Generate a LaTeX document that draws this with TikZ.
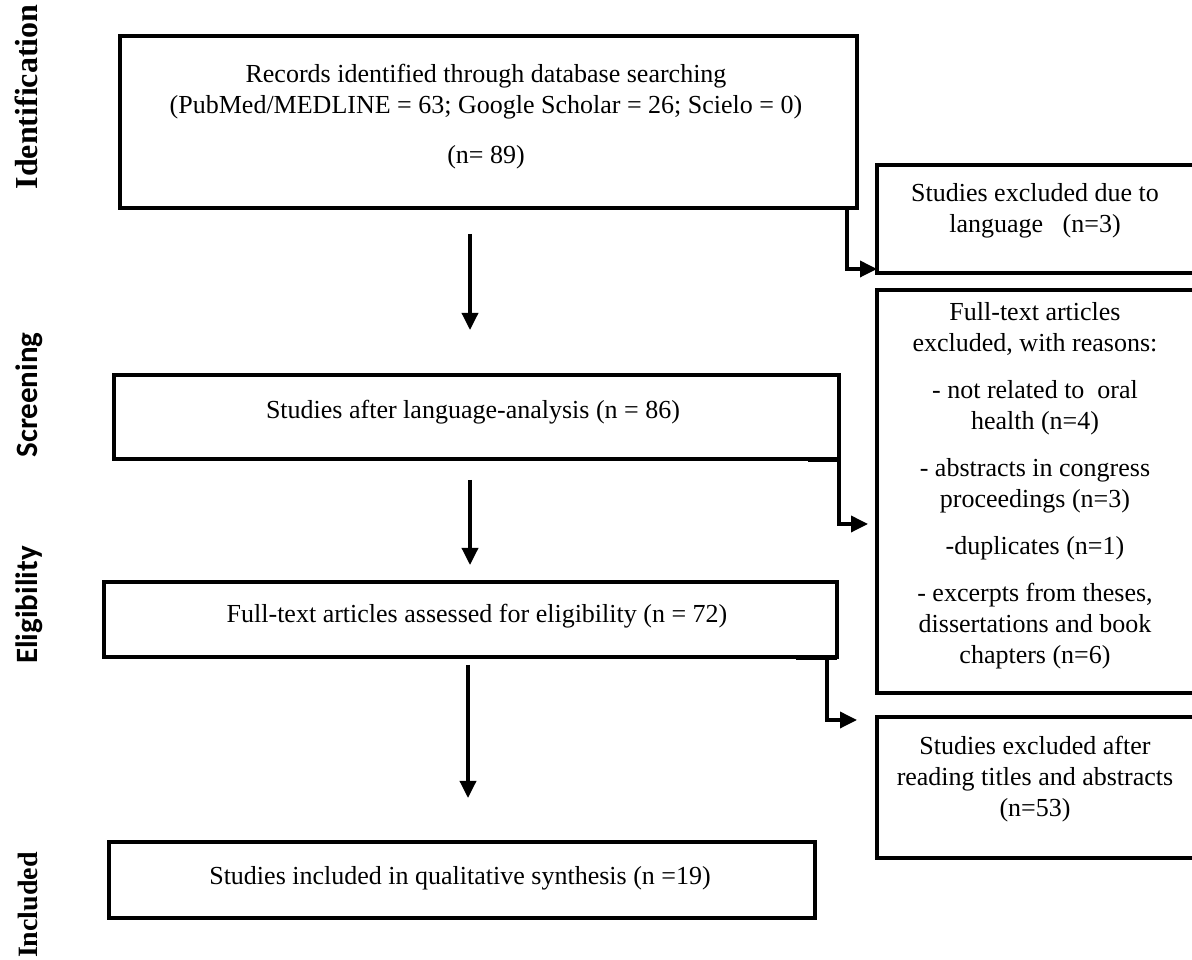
\documentclass[tikz,border=0pt]{standalone}
\usepackage{fontspec}
\setmainfont{Liberation Serif}
\newfontfamily\calib{Carlito}
\usetikzlibrary{arrows.meta}
\begin{document}
\begin{tikzpicture}[x=1pt,y=1pt,
  box/.style={draw, line width=3.5pt, rectangle, inner sep=0pt, outer sep=0pt},
  txt/.style={align=center, inner sep=0pt, font=\fontsize{26}{31}\selectfont},
  arr/.style={line width=3.5pt, -{Triangle[length=17pt,width=16pt]}},
  conn/.style={line width=3.5pt},
  labserif/.style={rotate=90, anchor=base, inner sep=0pt, font=\bfseries\fontsize{32}{32}\selectfont},
  labsans/.style={rotate=90, anchor=base, inner sep=0pt, font=\calib\bfseries\fontsize{31}{31}\selectfont}]
\useasboundingbox (0,0) rectangle (1192,960);
\clip (0,0) rectangle (1192,960);
\fill[white] (0,0) rectangle (1192,960);

% stage labels
\node[labserif] (lid) at (37,863) {Identification};
\node[labsans] (lsc) at (37,565) {Screening};
\node[labsans] (lel) at (37,355) {Eligibility};
\node[labserif, font=\bfseries\fontsize{28}{28}\selectfont] (lin) at (37,55) {Included};

% main column boxes
\node[box, minimum width=737pt, minimum height=172pt] (b1) at (488.5,838) {};
\node[txt] (t1) at (486,843.5) {Records identified through database searching\\(PubMed/MEDLINE = 63; Google Scholar = 26; Scielo = 0)\\[19pt](n= 89)};

\node[box, minimum width=725pt, minimum height=84pt] (scr) at (476.5,543) {};
\node[txt] (tscr) at (473,548) {Studies after language-analysis (n = 86)};

\node[box, minimum width=733pt, minimum height=75pt] (eli) at (470.5,340.5) {};
\node[txt] (teli) at (477,344) {Full-text articles assessed for eligibility (n = 72)};

\node[box, minimum width=706pt, minimum height=76pt] (inc) at (462,80) {};
\node[txt] (tinc) at (460,82) {Studies included in qualitative synthesis (n =19)};

% right column boxes (cut at the right edge)
\node[box, minimum width=328pt, minimum height=108pt] (lang) at (1041,741) {};
\node[txt] (tlang) at (1035,749.5) {Studies excluded due to\\language~~~(n=3)};

\node[box, minimum width=328pt, minimum height=403pt] (full) at (1041,468.5) {};
\node[txt] (tfull) at (1035,474) {Full-text articles\\excluded, with reasons:\\[16pt]- not related to~~oral\\health (n=4)\\[16pt]- abstracts in congress\\proceedings (n=3)\\[16pt]-duplicates (n=1)\\[16pt]- excerpts from theses,\\dissertations and book\\chapters (n=6)};

\node[box, minimum width=328pt, minimum height=141pt] (read) at (1041,172.5) {};
\node[txt] (tread) at (1035,180.5) {Studies excluded after\\reading titles and abstracts\\(n=53)};

% vertical arrows
\coordinate (a1s) at (470,726); \coordinate (a1e) at (470,630);
\coordinate (a2s) at (470,480); \coordinate (a2e) at (470,395);
\coordinate (a3s) at (468,295); \coordinate (a3e) at (468,162);
\draw[arr] (a1s) -- (a1e);
\draw[arr] (a2s) -- (a2e);
\draw[arr] (a3s) -- (a3e);

% side connectors
\draw[arr] ([xshift=-10pt]b1.south east) |- ([yshift=4pt]lang.south west);
\draw[conn] ([xshift=-31pt,yshift=-1pt]scr.south east) -- ([yshift=-1pt]scr.south east);
\draw[arr] (scr.south east) |- ([xshift=-9pt,yshift=-32.5pt]full.west);
\draw[conn] ([xshift=-41pt,yshift=-1pt]eli.south east) -- ([yshift=-1pt]eli.south east);
\draw[arr] ([xshift=-10pt]eli.south east) |- ([xshift=-20pt,yshift=-3pt]read.north west);
\end{tikzpicture}
\end{document}
